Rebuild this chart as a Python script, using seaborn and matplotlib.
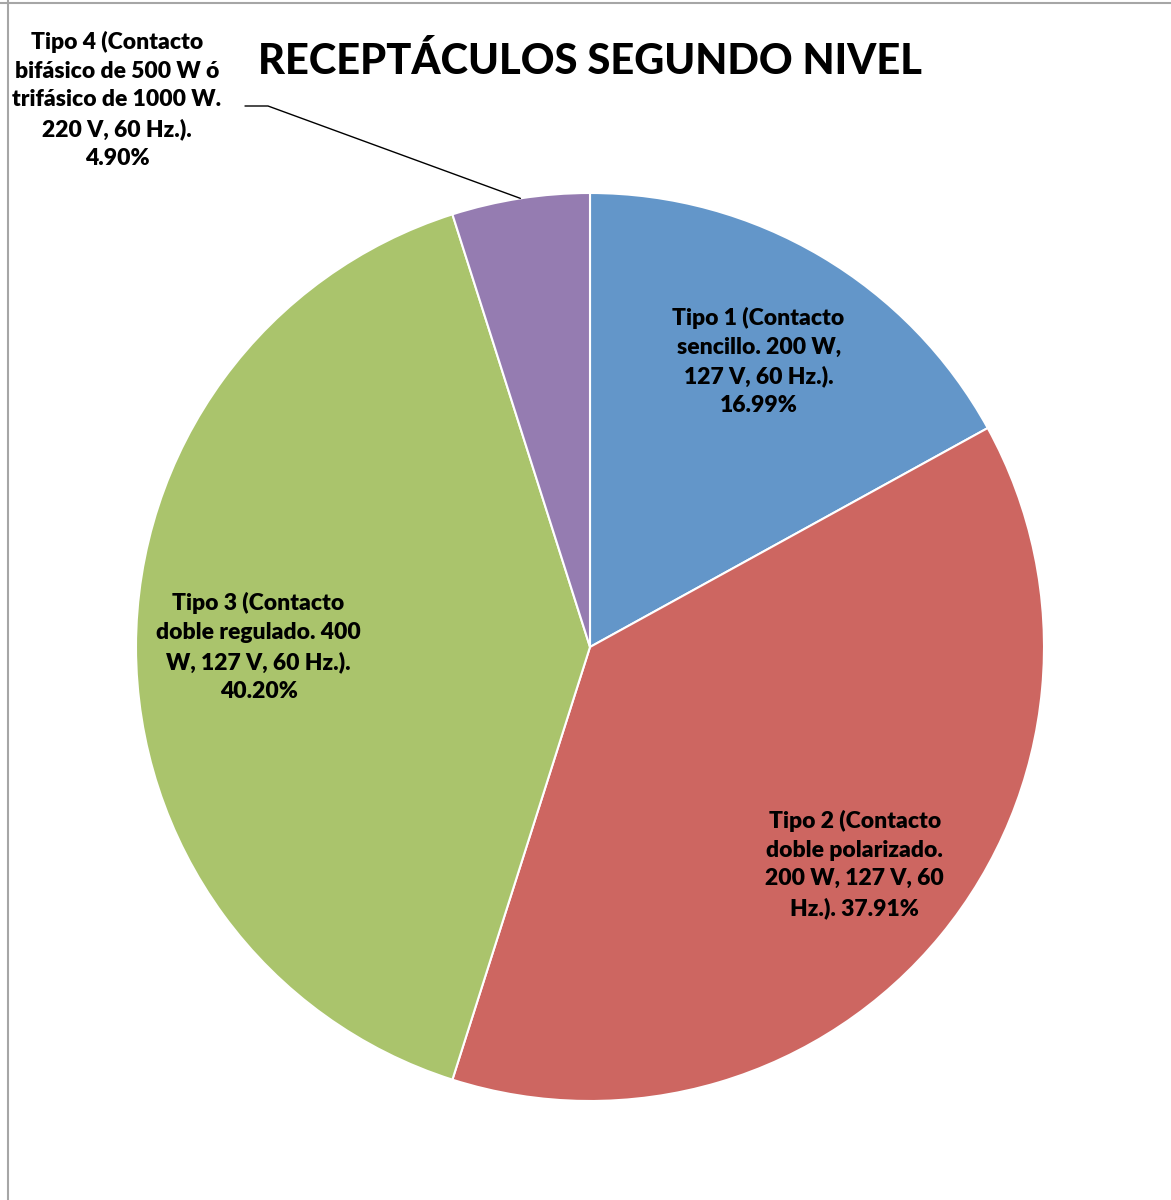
"""Pie chart: receptacle types on the second floor."""

import matplotlib

matplotlib.use("Agg")
import matplotlib.pyplot as plt
import numpy as np
import seaborn as sns
from matplotlib.lines import Line2D

# ---- data -----------------------------------------------------------------
labels = [
    "Tipo 1 (Contacto\nsencillo. 200 W,\n127 V, 60 Hz.).",
    "Tipo 2 (Contacto\ndoble polarizado.\n200 W, 127 V, 60\nHz.). 37.91%",
    "Tipo 3 (Contacto\ndoble regulado. 400\nW, 127 V, 60 Hz.).",
    "Tipo 4 (Contacto\nbifásico de 500 W ó\ntrifásico de 1000 W.\n220 V, 60 Hz.).",
]
shares = [16.99, 37.91, 40.20, 4.90]
colors = ["#6396C9", "#CD6661", "#AAC46C", "#957CB1"]

# ---- layout (pixel-like data coords) ----------------------------------------
W, H = 1171, 1200
CX, CY, R = 590, H - 647, 454

sns.set_theme(style="white")
plt.rcParams["font.family"] = ["Lato", "DejaVu Sans"]

fig = plt.figure(figsize=(W / 100, H / 100), dpi=100)
ax = fig.add_axes([0, 0, 1, 1])

wedges, _ = ax.pie(
    shares,
    colors=colors,
    startangle=90,
    counterclock=False,
    center=(CX, CY),
    radius=R,
    wedgeprops=dict(edgecolor="white", linewidth=1.5),
)
ax.set_xlim(0, W)
ax.set_ylim(0, H)
ax.set_aspect("equal")
ax.axis("off")

text_kw = dict(ha="center", va="center", fontsize=16.5, fontweight="heavy",
               color="black", linespacing=1.45)

dists = [0.73, 0.755, 0.73]
for wedge, lab, pct, d in zip(wedges[:3], labels[:3], shares[:3], dists):
    mid = np.deg2rad((wedge.theta1 + wedge.theta2) / 2)
    txt = lab if "%" in lab else f"{lab}\n{pct:.2f}%"
    ax.text(CX + d * R * np.cos(mid), CY + d * R * np.sin(mid), txt, **text_kw)

# outside label for the small slice, with leader line
w4 = wedges[3]
mid4 = np.deg2rad((w4.theta1 + w4.theta2) / 2)
ex, ey = CX + R * np.cos(mid4), CY + R * np.sin(mid4)
ax.text(117, H - 100, f"{labels[3]}\n{shares[3]:.2f}%", **text_kw)
ax.plot([245, 268, ex], [H - 106, H - 106, ey], color="black", lw=1)

ax.text(590, H - 62, "RECEPTÁCULOS SEGUNDO NIVEL", ha="center", va="center",
        fontsize=30, fontweight="black", color="black")

# chart frame (only top and left edges visible in the crop)
fig.add_artist(Line2D([0, 1], [1 - 2.5 / H, 1 - 2.5 / H], color="#A6A6A6", lw=1.5))
fig.add_artist(Line2D([7.5 / W, 7.5 / W], [0, 1], color="#A6A6A6", lw=1.5))

fig.savefig("out.png", dpi=100, facecolor="white")
